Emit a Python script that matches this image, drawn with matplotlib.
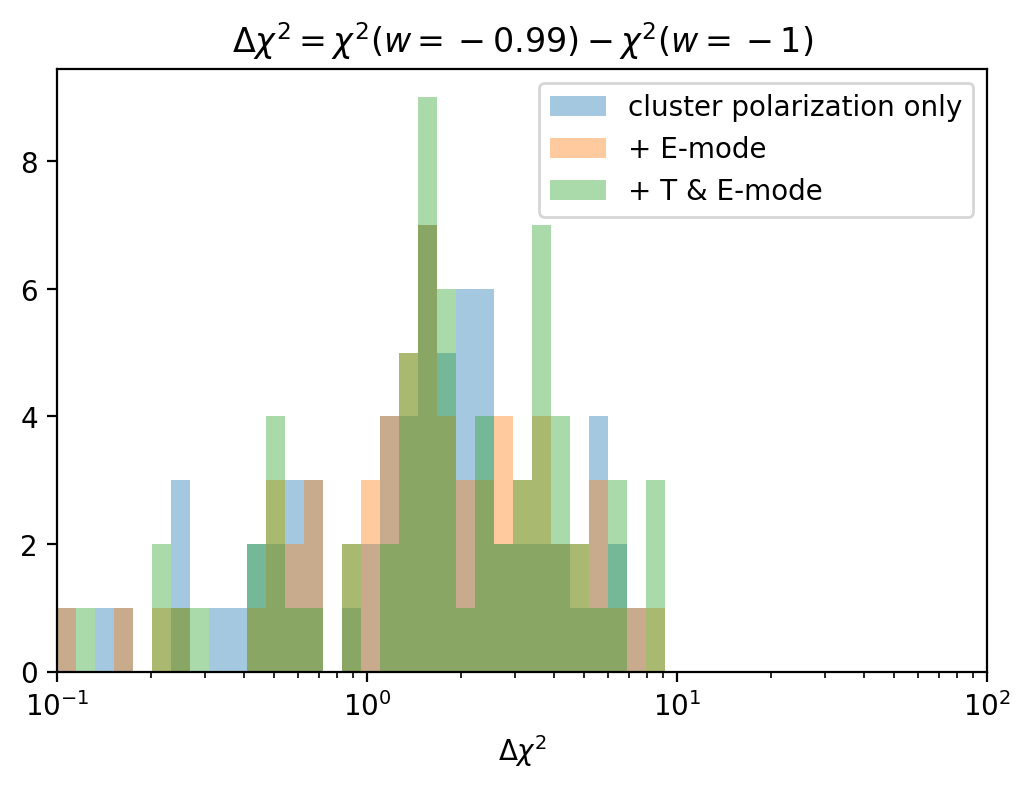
import numpy as np
import matplotlib
matplotlib.use("Agg")
import matplotlib.pyplot as plt

edges = np.logspace(-1, 2, 50)
centers = np.sqrt(edges[:-1] * edges[1:])

# counts per log bin (first 32 bins; rest are zero)
counts_pol = [1, 0, 1, 1, 0, 0, 3, 0, 1, 1, 2, 2, 3, 3, 0, 1,
              2, 4, 4, 7, 5, 6, 6, 2, 2, 2, 2, 1, 4, 2, 1, 0]
counts_E = [1, 0, 0, 1, 0, 1, 1, 0, 0, 0, 1, 3, 2, 3, 0, 2,
            3, 4, 5, 7, 4, 3, 3, 4, 3, 4, 2, 2, 3, 1, 1, 1]
counts_TE = [0, 1, 0, 0, 0, 2, 1, 1, 0, 0, 2, 4, 1, 1, 0, 2,
             0, 2, 5, 9, 6, 1, 4, 2, 3, 7, 4, 2, 1, 3, 0, 3]

labels = ["cluster polarization only", "+ E-mode", "+ T & E-mode"]

def pad(c):
    return list(c) + [0] * (len(centers) - len(c))

fig, ax = plt.subplots(figsize=(6, 3.915), dpi=200)
for c, lab in zip([counts_pol, counts_E, counts_TE], labels):
    ax.hist(centers, bins=edges, weights=pad(c), alpha=0.4, label=lab)
ax.set_xscale("log")
ax.set_xlim(0.1, 100)
ax.set_xlabel(r"$\Delta\chi^2$")
ax.set_title(r"$\Delta\chi^2 = \chi^2(w={}-0.99) - \chi^2(w={}-1)$")
ax.legend(loc="upper right")
fig.savefig("out.png", dpi=200, bbox_inches="tight")
